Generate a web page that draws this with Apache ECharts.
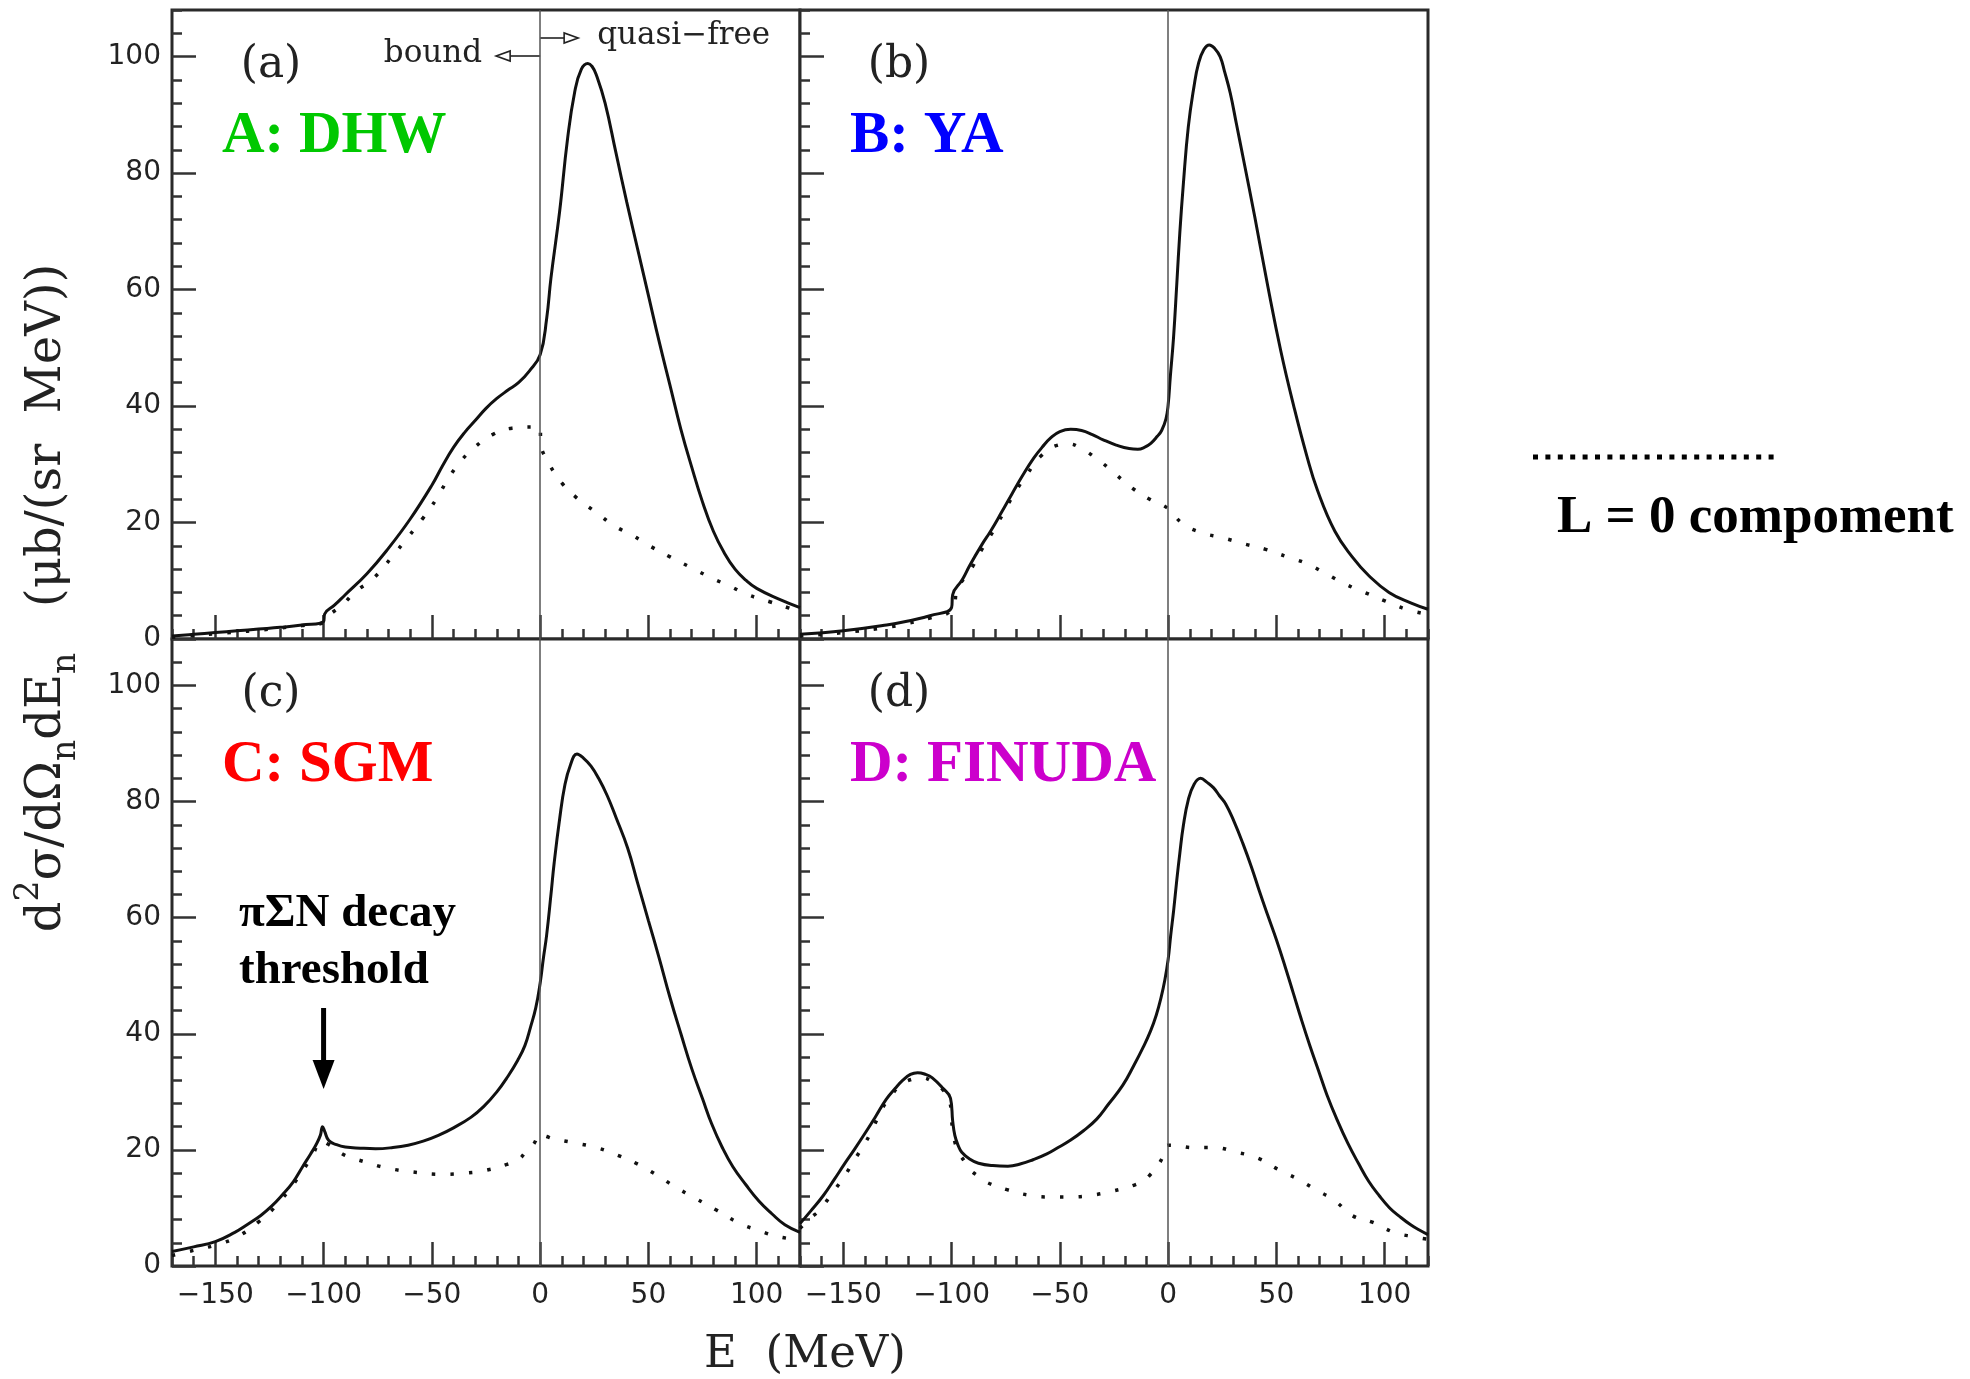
<!DOCTYPE html>
<html>
<head>
<meta charset="utf-8">
<script src="https://cdn.jsdelivr.net/npm/echarts@6/dist/echarts.min.js"></script>
<style>
html,body{margin:0;padding:0;background:#fff;}
#chart{width:1970px;height:1379px;}
</style>
</head>
<body>
<div id="chart"></div>
<script>
// ---------- axis ranges & ticks ----------
const X_MIN = -170, X_MAX = 120, Y_MIN = 0, Y_MAX = 108;
const X_MAJOR = [-150, -100, -50, 0, 50, 100];
const X_MINOR = [-170,-160,-150,-140,-130,-120,-110,-100,-90,-80,-70,-60,-50,-40,-30,-20,-10,0,10,20,30,40,50,60,70,80,90,100,110,120];
const Y_MAJOR = [0, 20, 40, 60, 80, 100];
const Y_MINOR = [0,4,8,12,16,20,24,28,32,36,40,44,48,52,56,60,64,68,72,76,80,84,88,92,96,100,104,108];

// ---------- panel (a) A: DHW ----------
const SOLID_A = [[-170,0.5],[-160,0.8],[-150,1.1],[-140,1.4],[-130,1.7],[-120,2.0],[-110,2.4],[-100,3.0],[-99.5,4.3],[-95,5.8],[-90,7.6],[-80,11.2],[-70,15.6],[-60,20.6],[-50,26.4],[-45,29.8],[-40,32.9],[-35,35.4],[-30,37.5],[-25,39.6],[-20,41.3],[-15,42.7],[-10,44.0],[-5,46.0],[0,48.8],[3,55],[5,62],[9,73.4],[12.6,85.7],[16,94],[19,97.8],[22,98.8],[24,98.3],[26,96.8],[30,92],[35,83.5],[40,75],[45,67],[50,59],[55,51],[60,43.5],[65,36],[70,29.5],[75,23.5],[80,18.5],[85,14.8],[90,12],[95,10.1],[100,8.7],[110,6.9],[120,5.4]];
const DOT_A = [[-170,0.3],[-160,0.6],[-150,0.9],[-140,1.2],[-130,1.5],[-120,1.9],[-110,2.3],[-100,2.8],[-97,4.2],[-92,5.6],[-85,8.2],[-77,10.4],[-68,14.3],[-61,17.5],[-54,20.8],[-48,24],[-42,27.8],[-36,30.8],[-30,33],[-22,35.1],[-13,36.2],[-3,36.4],[0,36.4],[0.3,33.6],[4,30.2],[10,26.8],[17,24.2],[26,21.7],[34,19.5],[43,17.7],[51,15.9],[60,14.1],[70,12.2],[79,10.5],[88,9],[96,7.6],[106,6.4],[115,5.3],[120,4.6]];

// ---------- panel (b) B: YA ----------
const SOLID_B = [[-170,0.8],[-150,1.4],[-130,2.4],[-120,3.1],[-110,4.0],[-100,5.4],[-99.5,7.6],[-95,10.2],[-91.5,12.7],[-86,16.2],[-82,18.5],[-77,21.7],[-72,25],[-67,28.2],[-62,31.1],[-58,33],[-54,34.6],[-50,35.6],[-45,36],[-40,35.8],[-35,35.1],[-30,34.2],[-24,33.3],[-18,32.7],[-14,32.6],[-11,32.9],[-8,33.6],[-5,34.8],[-3,35.8],[-1,37.8],[0,40.2],[1,45],[2.5,51.8],[4,61],[5.4,69.8],[7,78],[9.3,87.9],[12,95],[14,98.8],[16.5,101.2],[19,102],[21.5,101.4],[24,100],[26,97.5],[28.7,93.7],[31.5,88.5],[34.5,82.9],[40,72.5],[46,60.6],[52,49.5],[58,40],[64,31.5],[69,25.5],[77,18.5],[85,14.1],[92.6,10.9],[102,8],[112,6.2],[120,5.1]];
const DOT_B = [[-170,0.5],[-150,1.1],[-130,2.0],[-120,2.7],[-110,3.6],[-100,5.0],[-97.3,8.7],[-94,10.5],[-90.5,12.3],[-85.7,15.6],[-80.8,18.5],[-76,21.7],[-71,25],[-65.3,28.2],[-58.5,31.5],[-50.8,33.3],[-46,33.5],[-41,32.9],[-32.4,30.8],[-24.6,28.4],[-16.9,26],[-8.1,23.9],[0,22.4],[6.4,19.9],[15,18.3],[25,17.4],[35.5,16.3],[45,15.4],[55,14.1],[63.6,13],[73,11.2],[82,9.4],[90.7,8],[100.4,6.5],[110,5.1],[120,4.2]];

// ---------- panel (c) C: SGM ----------
const SOLID_C = [[-170,2.5],[-160,3.3],[-150,4.2],[-141,5.8],[-135,7.2],[-129,8.7],[-124,10.3],[-119.4,12.1],[-114,14.5],[-109.7,17.1],[-106,19.3],[-103.6,20.8],[-101.5,22.5],[-100.5,24],[-99.5,23.2],[-97.6,21.6],[-94,20.9],[-90,20.5],[-83,20.3],[-76,20.2],[-68,20.4],[-61,20.8],[-54,21.5],[-47,22.5],[-40,23.8],[-32,25.6],[-26,27.5],[-20,30],[-15,32.6],[-10.4,35.4],[-7,38],[-4.4,41.2],[-2,44.5],[0,48.7],[1.5,53],[3,57],[5,64],[6.5,69.5],[9,77],[11.4,82.8],[14,86.3],[17,88.2],[20,87.5],[23.5,86.1],[27,84],[31,81],[35,77.3],[40.4,72],[45,66],[50,59.5],[55,53],[60,46.2],[65,40],[70,34],[75,28.8],[79.2,24.5],[84,20.5],[89,17.1],[95,14],[101,11.2],[107,9],[113,7.1],[120,5.8]];
const DOT_C = [[-170,1.8],[-160,2.7],[-150,3.6],[-140,5],[-130,7.6],[-120,11.2],[-110,16.2],[-105,19.2],[-101,21.5],[-98,21],[-94,20],[-90.3,19.1],[-85,18.4],[-80.6,17.9],[-71,16.9],[-59,16.2],[-45.5,15.8],[-34.6,16],[-25,16.5],[-15.3,17.5],[-10,18.3],[-6.8,19.6],[-3,21],[0,22.7],[3,22.3],[6.5,21.9],[16,21.2],[26,20.4],[35.6,19.1],[45.3,17.5],[55,15.4],[62,13.7],[72,11.6],[81.6,9.6],[91.3,7.5],[101,6.1],[110.7,5],[120,4.5]];

// ---------- panel (d) D: FINUDA ----------
const SOLID_D = [[-170,7.3],[-165,9.5],[-159.3,12.1],[-154,15],[-149.6,17.5],[-145,20],[-139.9,22.9],[-135,25.8],[-130.2,28.7],[-126,30.6],[-122.5,32],[-119,33],[-115.7,33.3],[-112,33],[-108.9,32.4],[-104,30.6],[-100.5,28.9],[-99.5,25],[-98.5,22.5],[-97,20.8],[-95.3,19.6],[-91.5,18.4],[-87.6,17.7],[-81,17.3],[-74,17.2],[-68,17.6],[-62.4,18.3],[-56,19.3],[-50.8,20.4],[-45,21.7],[-39.1,23.3],[-33,25.3],[-27.5,27.9],[-21,31.1],[-15.9,34.5],[-11.5,37.7],[-8.1,40.5],[-5.5,43.2],[-3.3,46.2],[-1.5,49.3],[0,52.8],[1.2,57],[2.5,61.1],[4,66.5],[5.4,71.1],[7,75.8],[9.3,80.3],[12,83],[15,84],[18,83.3],[20.9,82.4],[23.7,81],[26.7,79.5],[30.5,76.5],[34.5,72.8],[38.5,68.7],[42.2,64.5],[46,60.4],[50,56.2],[54,51.6],[57.8,47],[61.5,42.5],[65.5,37.9],[69.5,33.6],[73.3,29.5],[78,25.2],[82.9,21.2],[88,17.6],[92.6,14.6],[97.5,12.1],[102.3,10],[107,8.5],[112,7.1],[116,6.2],[120,5.4]];
const DOT_D = [[-170,6.5],[-165,8.3],[-161,9.6],[-155,12.6],[-149.6,15.4],[-145,18.2],[-139.9,21.2],[-136,24],[-132.2,27],[-128,29.3],[-123.4,31.2],[-118,32.2],[-113.8,32.4],[-109,31.8],[-104.1,30.4],[-101,28.6],[-99.5,23.5],[-97.3,20],[-94,18],[-91.5,16.6],[-87,15.3],[-83.7,14.4],[-74,13.1],[-64.3,12.2],[-54.7,11.9],[-45,11.9],[-35.3,12.2],[-25.6,12.9],[-15.9,13.9],[-11,14.8],[-8.1,15.8],[-5,17.2],[-2.3,18.9],[0,20.8],[5,20.7],[11.2,20.4],[20.9,20.4],[31.6,19.6],[41.3,18.6],[51,16.6],[59.7,15],[67.4,13.3],[77.1,11.2],[84.9,8.7],[94.6,7.5],[104.3,5.8],[114,5],[120,4.6]];

const PANEL_TAGS = ['(a)', '(b)', '(c)', '(d)'];
const PANEL_NAMES = ['A: DHW', 'B: YA', 'C: SGM', 'D: FINUDA'];
const PANEL_COLORS = ['#00c800', '#0000ff', '#ff0000', '#cc00cc'];
const SOLIDS = [SOLID_A, SOLID_B, SOLID_C, SOLID_D];
const DOTS = [DOT_A, DOT_B, DOT_C, DOT_D];

// ---------- layout ----------
const GRIDS = [
  {left: 172, top: 10, width: 628, height: 629},
  {left: 800, top: 10, width: 628, height: 629},
  {left: 172, top: 639, width: 628, height: 627},
  {left: 800, top: 639, width: 628, height: 627}
];
const TICK_STYLE = {color: '#333', width: 2.5};
const LABEL_FONT = {fontFamily: 'DejaVu Sans', fontSize: 28, color: '#222'};
const fmtX = v => (v < 0 ? '\u2212' + (-v) : String(v));

const chart = echarts.init(document.getElementById('chart'), null, {renderer: 'canvas'});

const grid = GRIDS.map(g => Object.assign({
  show: true, borderColor: '#2a2a2a', borderWidth: 3, backgroundColor: '#fff', containLabel: false
}, g));

const xAxis = [], yAxis = [], series = [];
for (let g = 0; g < 4; g++) {
  const bottomRow = g >= 2, leftCol = (g % 2 === 0);
  xAxis.push({
    type: 'value', gridIndex: g, min: X_MIN, max: X_MAX, position: 'bottom',
    axisLine: {show: false, onZero: false}, splitLine: {show: false},
    axisTick: {show: true, inside: true, length: 24, customValues: X_MAJOR, lineStyle: TICK_STYLE},
    axisLabel: Object.assign({show: bottomRow, customValues: X_MAJOR, formatter: fmtX, margin: 16}, LABEL_FONT)
  });
  xAxis.push({
    type: 'value', gridIndex: g, min: X_MIN, max: X_MAX, position: 'bottom',
    axisLine: {show: false, onZero: false}, splitLine: {show: false},
    axisTick: {show: true, inside: true, length: 10, customValues: X_MINOR, lineStyle: TICK_STYLE},
    axisLabel: {show: false}
  });
  yAxis.push({
    type: 'value', gridIndex: g, min: Y_MIN, max: Y_MAX, position: 'left',
    axisLine: {show: false, onZero: false}, splitLine: {show: false},
    axisTick: {show: true, inside: true, length: 24, customValues: Y_MAJOR, lineStyle: TICK_STYLE},
    axisLabel: Object.assign({show: leftCol, customValues: Y_MAJOR, margin: 11}, LABEL_FONT)
  });
  yAxis.push({
    type: 'value', gridIndex: g, min: Y_MIN, max: Y_MAX, position: 'left',
    axisLine: {show: false, onZero: false}, splitLine: {show: false},
    axisTick: {show: true, inside: true, length: 10, customValues: Y_MINOR, lineStyle: TICK_STYLE},
    axisLabel: {show: false}
  });
  series.push({
    type: 'line', name: 'total ' + PANEL_TAGS[g], xAxisIndex: 2 * g, yAxisIndex: 2 * g,
    data: SOLIDS[g], showSymbol: false, smooth: 0.45, clip: true,
    lineStyle: {color: '#111', width: 3},
    markLine: {
      silent: true, symbol: ['none', 'none'], label: {show: false},
      lineStyle: {color: '#555', width: 1.5, type: 'solid'},
      data: [{xAxis: 0}]
    }
  });
  series.push({
    type: 'line', name: 'L=0 ' + PANEL_TAGS[g], xAxisIndex: 2 * g, yAxisIndex: 2 * g,
    data: DOTS[g], showSymbol: false, smooth: 0.45, clip: true,
    lineStyle: {color: '#111', width: 3.5, type: [3.5, 15], cap: 'butt'}
  });
}

chart.setOption({
  animation: false,
  backgroundColor: '#fff',
  grid: grid, xAxis: xAxis, yAxis: yAxis, series: series
});

// ---------- annotations ----------
const px = (g, x, y) => chart.convertToPixel({xAxisIndex: 2 * g, yAxisIndex: 2 * g}, [x, y]);
const times = '"Liberation Serif", "Times New Roman", serif';
const graphic = [];

// y-axis title (rotated), with real sub/superscripts via rich text
graphic.push({
  type: 'text', x: 48, y: 598, rotation: Math.PI / 2,
  style: {
    text: '{m|d}{sup|2}{m|\u03c3/d\u03a9}{sub|n}{m|dE}{sub|n}{m|   (\u03bcb/(sr  MeV))}',
    fill: '#222', align: 'center', verticalAlign: 'middle',
    rich: {
      m: {fontFamily: 'DejaVu Serif', fontSize: 48, lineHeight: 70, fill: '#222'},
      sub: {fontFamily: 'DejaVu Serif', fontSize: 33, lineHeight: 40, verticalAlign: 'bottom', fill: '#222'},
      sup: {fontFamily: 'DejaVu Serif', fontSize: 33, lineHeight: 40, verticalAlign: 'top', fill: '#222'}
    }
  }
});
// x-axis title
graphic.push({
  type: 'text', x: 805, y: 1355,
  style: {text: 'E  (MeV)', font: '45px "DejaVu Serif"', fill: '#222', align: 'center', verticalAlign: 'middle'}
});
// panel tags & model names
for (let g = 0; g < 4; g++) {
  const G = GRIDS[g];
  graphic.push({
    type: 'text', x: G.left + 99, y: G.top + 56,
    style: {text: PANEL_TAGS[g], font: '44px "DejaVu Serif"', fill: '#222', align: 'center', verticalAlign: 'middle'}
  });
  graphic.push({
    type: 'text', x: G.left + 50, y: G.top + 127,
    style: {text: PANEL_NAMES[g], font: 'bold 59px ' + times, fill: PANEL_COLORS[g], align: 'left', verticalAlign: 'middle'}
  });
}

// bound / quasi-free arrows in panel (a), anchored at E = 0
const zA = px(0, 0, 0);
const x0 = zA[0];
const yb = 56, yq = 38;
graphic.push({type: 'line', shape: {x1: x0, y1: yb, x2: x0 - 30, y2: yb}, style: {stroke: '#222', lineWidth: 1.6}});
graphic.push({type: 'polygon', shape: {points: [[x0 - 30, yb - 5], [x0 - 30, yb + 5], [x0 - 44, yb]]}, style: {fill: '#fff', stroke: '#222', lineWidth: 1.6}});
graphic.push({type: 'text', x: x0 - 58, y: yb - 2,
  style: {text: 'bound', font: '31px "DejaVu Serif"', fill: '#222', align: 'right', verticalAlign: 'middle'}});
graphic.push({type: 'line', shape: {x1: x0, y1: yq, x2: x0 + 24, y2: yq}, style: {stroke: '#222', lineWidth: 1.6}});
graphic.push({type: 'polygon', shape: {points: [[x0 + 24, yq - 5], [x0 + 24, yq + 5], [x0 + 38, yq]]}, style: {fill: '#fff', stroke: '#222', lineWidth: 1.6}});
graphic.push({type: 'text', x: x0 + 57, y: yq - 2,
  style: {text: 'quasi\u2212free', font: '31px "DejaVu Serif"', fill: '#222', align: 'left', verticalAlign: 'middle'}});

// pi Sigma N decay threshold annotation in panel (c)
const thr = px(2, -100, 0);
graphic.push({type: 'text', x: 239, y: 914,
  style: {text: '\u03c0\u03a3N decay', font: 'bold 47px ' + times, fill: '#000', align: 'left', verticalAlign: 'middle'}});
graphic.push({type: 'text', x: 239, y: 971,
  style: {text: 'threshold', font: 'bold 47px ' + times, fill: '#000', align: 'left', verticalAlign: 'middle'}});
graphic.push({type: 'line', shape: {x1: thr[0], y1: 1008, x2: thr[0], y2: 1064}, style: {stroke: '#000', lineWidth: 5}});
graphic.push({type: 'polygon', shape: {points: [[thr[0] - 11, 1060], [thr[0] + 11, 1060], [thr[0], 1089]]}, style: {fill: '#000'}});

// legend for dotted line
graphic.push({type: 'line', shape: {x1: 1533, y1: 457, x2: 1777, y2: 457},
  style: {stroke: '#000', lineWidth: 5, lineDash: [5, 7.4]}});
graphic.push({type: 'text', x: 1557, y: 518,
  style: {text: 'L = 0 compoment', font: 'bold 53px ' + times, fill: '#000', align: 'left', verticalAlign: 'middle'}});

chart.setOption({graphic: graphic});
</script>
</body>
</html>
